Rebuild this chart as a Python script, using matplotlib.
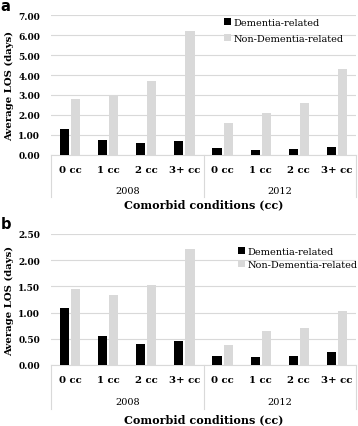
import numpy as np
import matplotlib
matplotlib.use('Agg')
from matplotlib import pyplot as plt
import matplotlib.transforms as mtransforms

plt.rcParams['font.family'] = ['DejaVu Serif']

cats = ['0 cc', '1 cc', '2 cc', '3+ cc', '0 cc', '1 cc', '2 cc', '3+ cc']
years = ['2008', '2012']

# panel a
dem_a = [1.32, 0.75, 0.60, 0.70, 0.37, 0.27, 0.32, 0.42]
non_a = [2.80, 3.02, 3.72, 6.22, 1.58, 2.12, 2.62, 4.30]
# panel b
dem_b = [1.09, 0.55, 0.40, 0.46, 0.18, 0.16, 0.18, 0.24]
non_b = [1.45, 1.33, 1.52, 2.21, 0.39, 0.65, 0.71, 1.03]

W, H = 358, 427
fig = plt.figure(figsize=(W/100, H/100), dpi=100)

def fy(px):
    return 1 - px/H

def panel(rect, dem, non, ymax, step, letter, cat_y, year_y, sep_y, xl_y, leg_xy, lsp):
    ax = fig.add_axes(rect)
    x = np.arange(len(cats))
    w = 0.24
    off = 0.145
    ax.bar(x-off, dem, w, color='black', label='Dementia-related', zorder=3)
    ax.bar(x+off, non, w, color='#d9d9d9', label='Non-Dementia-related', zorder=3)
    ax.set_xlim(-0.5, len(cats)-0.5)
    ax.set_ylim(0, ymax)
    ticks = np.arange(0, ymax+step/2, step)
    ax.set_yticks(ticks)
    ax.set_yticklabels(['%.2f' % t for t in ticks], fontsize=6.5, fontweight='bold')
    ax.yaxis.grid(True, color='#d9d9d9', lw=0.8, zorder=0)
    ax.tick_params(axis='y', length=0, pad=8)
    ax.set_xticks([])
    for s in ['left', 'right', 'top']:
        ax.spines[s].set_visible(False)
    ax.spines['bottom'].set_color('#d9d9d9')
    tr = mtransforms.blended_transform_factory(ax.transData, fig.transFigure)
    for i, c in enumerate(cats):
        ax.text(i, fy(cat_y), c, transform=tr, ha='center', va='center',
                fontsize=7.3, fontweight='bold')
    for j, yr in enumerate(years):
        ax.text(1.5+4*j, fy(year_y), yr, transform=tr, ha='center', va='center',
                fontsize=7)
    bottom = ax.get_position().y0
    for xs in [-0.5, 3.5, 7.5]:
        ax.plot([xs, xs], [bottom, fy(sep_y)], transform=tr, color='#d9d9d9',
                lw=0.8, clip_on=False)
    fig.text((rect[0]+rect[0]+rect[2])/2, fy(xl_y), 'Comorbid conditions (cc)',
             ha='center', va='center', fontsize=8, fontweight='bold')
    ax.set_ylabel('Average LOS (days)', fontsize=7.3, fontweight='bold', labelpad=3)
    ax.legend(loc='upper left', bbox_to_anchor=(leg_xy[0]/W, fy(leg_xy[1])),
              bbox_transform=fig.transFigure, frameon=False, fontsize=7,
              handlelength=0.7, handleheight=0.7, handletextpad=0.3,
              labelspacing=lsp, borderpad=0, borderaxespad=0)
    fig.text(0.002, fy(letter[1]), letter[0], fontsize=10.5, fontweight='bold',
             family='DejaVu Sans', ha='left', va='top')
    return ax

panel([51/W, fy(156), 305/W, 140/H], dem_a, non_a, 7, 1, ('a', -1),
      171, 191, 198, 205, (224, 19), 0.75)
panel([51/W, fy(366), 305/W, 131/H], dem_b, non_b, 2.5, 0.5, ('b', 217),
      381, 403, 410, 420, (238, 248), 0.45)

fig.savefig('out.png', dpi=100)
